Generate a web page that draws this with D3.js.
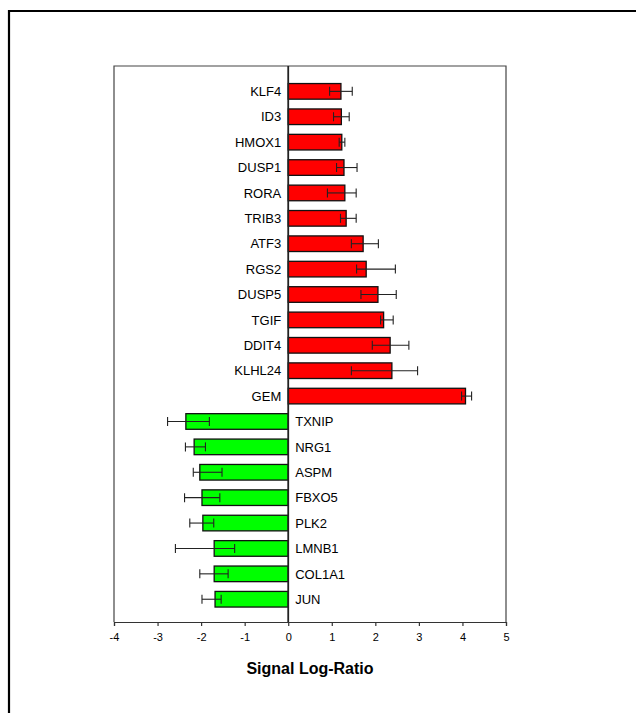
<!DOCTYPE html>
<html>
<head>
<meta charset="utf-8">
<script src="https://cdn.jsdelivr.net/npm/d3@7"></script>
<style>
  html, body { margin: 0; padding: 0; background: #fff; }
  svg { display: block; }
  text { font-family: "Liberation Sans", Arial, sans-serif; }
</style>
</head>
<body>
<div id="chart"></div>
<script>
// Genes, top to bottom
const genes = ["KLF4", "ID3", "HMOX1", "DUSP1", "RORA", "TRIB3", "ATF3", "RGS2", "DUSP5", "TGIF",
  "DDIT4", "KLHL24", "GEM", "TXNIP", "NRG1", "ASPM", "FBXO5", "PLK2", "LMNB1", "COL1A1", "JUN"];
// Mean signal log-ratio per gene
const ratios = [1.21, 1.22, 1.23, 1.28, 1.30, 1.33, 1.72, 1.79, 2.06, 2.19,
  2.34, 2.38, 4.07, -2.35, -2.16, -2.03, -1.98, -1.96, -1.70, -1.70, -1.68];
// Error bar ends (lower / upper)
const errLow = [0.95, 1.04, 1.17, 1.11, 0.90, 1.20, 1.45, 1.57, 1.67, 2.12,
  1.93, 1.45, 3.98, -2.77, -2.36, -2.18, -2.38, -2.26, -2.59, -2.03, -1.98];
const errHigh = [1.47, 1.40, 1.30, 1.58, 1.56, 1.56, 2.07, 2.46, 2.48, 2.41,
  2.77, 2.97, 4.21, -1.81, -1.90, -1.52, -1.57, -1.71, -1.23, -1.38, -1.54];
const xTicks = [-4, -3, -2, -1, 0, 1, 2, 3, 4, 5];
const xTitle = "Signal Log-Ratio";

const W = 636, H = 713;
const plot = { left: 114, right: 506, top: 66, bottom: 622 };

const svg = d3.select("#chart").append("svg")
  .attr("width", W).attr("height", H);

// Outer page frame (open on the right and bottom)
svg.append("path")
  .attr("d", `M9,${H} V11 H${W}`)
  .attr("fill", "none").attr("stroke", "#000").attr("stroke-width", 2.2);

const x = d3.scaleLinear().domain([-4, 5]).range([plot.left, plot.right]);
const y = d3.scaleBand().domain(genes).range([plot.top, plot.bottom])
  .paddingInner(0.385).paddingOuter(0.64).align(0.54);

// Plot frame
svg.append("path")
  .attr("d", `M${plot.left},${plot.bottom} V${plot.top} H${plot.right} V${plot.bottom}`)
  .attr("fill", "none").attr("stroke", "#444").attr("stroke-width", 1.2);

const data = genes.map((g, i) => ({ g, v: ratios[i], lo: errLow[i], hi: errHigh[i] }));

// Bars
svg.append("g").selectAll("rect").data(data).join("rect")
  .attr("x", d => x(Math.min(0, d.v)))
  .attr("y", d => y(d.g))
  .attr("width", d => Math.abs(x(d.v) - x(0)))
  .attr("height", y.bandwidth())
  .attr("fill", d => d.v >= 0 ? "#ff0000" : "#00ff00")
  .attr("stroke", "#111").attr("stroke-width", 1.3);

// Error bars
const eb = svg.append("g").attr("stroke", "#222").attr("stroke-width", 1.1);
data.forEach(d => {
  const cy = y(d.g) + y.bandwidth() / 2;
  const cap = 4.5;
  eb.append("line").attr("x1", x(d.lo)).attr("x2", x(d.hi)).attr("y1", cy).attr("y2", cy);
  eb.append("line").attr("x1", x(d.lo)).attr("x2", x(d.lo)).attr("y1", cy - cap).attr("y2", cy + cap);
  eb.append("line").attr("x1", x(d.hi)).attr("x2", x(d.hi)).attr("y1", cy - cap).attr("y2", cy + cap);
});

// Zero line
svg.append("line")
  .attr("x1", x(0)).attr("x2", x(0)).attr("y1", plot.top).attr("y2", plot.bottom)
  .attr("stroke", "#222").attr("stroke-width", 1.8);

// Gene labels, on the opposite side of the bar
svg.append("g").selectAll("text").data(data).join("text")
  .attr("x", d => d.v >= 0 ? x(0) - 7 : x(0) + 7)
  .attr("y", d => y(d.g) + y.bandwidth() / 2)
  .attr("dy", "0.36em")
  .attr("text-anchor", d => d.v >= 0 ? "end" : "start")
  .attr("font-size", 13)
  .attr("fill", "#000")
  .text(d => d.g);

// X axis (plain hyphen-minus on negative ticks)
const axis = svg.append("g")
  .attr("transform", `translate(0,${plot.bottom})`)
  .call(d3.axisBottom(x).tickValues(xTicks).tickSize(4).tickPadding(7).tickFormat(d => String(d)));
axis.select(".domain").attr("stroke", "#333").attr("stroke-width", 1.2);
axis.selectAll(".tick line").attr("stroke", "#333").attr("stroke-width", 1.2);
axis.selectAll(".tick text")
  .attr("font-family", "'Liberation Sans', Arial, sans-serif")
  .attr("font-size", 11).attr("fill", "#000");

// Axis title
svg.append("text")
  .attr("x", (plot.left + plot.right) / 2)
  .attr("y", 674)
  .attr("text-anchor", "middle")
  .attr("font-size", 16).attr("font-weight", "bold")
  .text(xTitle);
</script>
</body>
</html>
